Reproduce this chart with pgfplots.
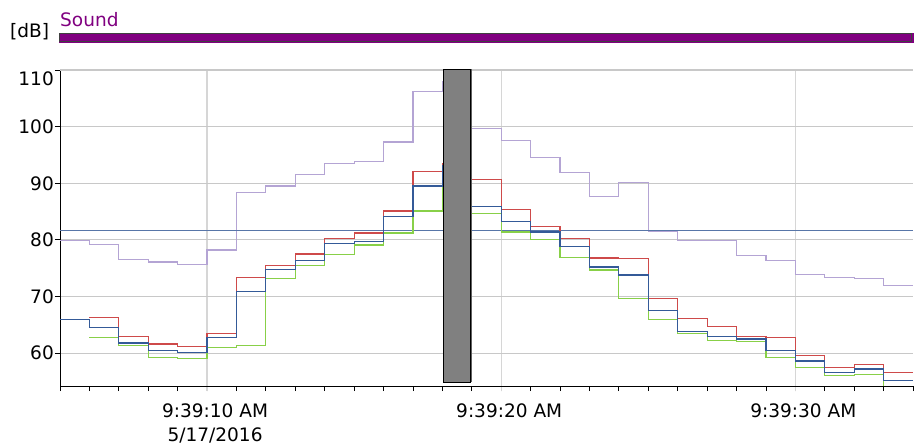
\documentclass[border=0pt]{standalone}
\usepackage{fontspec}
\setmainfont{DejaVu Sans}
\usepackage{pgfplots}
\pgfplotsset{compat=1.18}

\definecolor{sndpurple}{RGB}{128,0,128}
\definecolor{gridgray}{RGB}{200,200,200}
\definecolor{vgridgray}{RGB}{214,214,214}
\definecolor{ser1}{RGB}{180,164,212}
\definecolor{ser2}{RGB}{206,74,74}
\definecolor{ser3}{RGB}{52,90,152}
\definecolor{ser4}{RGB}{136,208,72}
\definecolor{limitline}{RGB}{88,118,168}

\newcommand{\lbl}{\fontsize{18.6}{24}\selectfont}

\begin{document}
\begin{tikzpicture}
\path[use as bounding box] (0bp,0bp) rectangle (919bp,447bp);

% channel header
\fill[sndpurple] (59bp,404bp) rectangle (914bp,414bp);
\draw[black!75,line width=0.9bp] (59.5bp,405.5bp) rectangle (911bp,414bp);
\node[anchor=base west,inner sep=0pt,text=sndpurple] at (60bp,420bp) {\lbl Sound};
\node[anchor=base west,inner sep=0pt] at (10bp,409bp) {\lbl [dB]};

\begin{axis}[
  at={(60bp,61bp)}, anchor=south west,
  scale only axis, width=853bp, height=316bp,
  xmin=5, xmax=34, ymin=54.2, ymax=110,
  axis x line*=bottom, axis y line*=left,
  axis line style={black,line width=0.9bp,-},
  xtick={10,20,30},
  minor xtick={5,...,34},
  xticklabels={{9:39:10 AM\\5/17/2016},{9:39:20 AM},{9:39:30 AM}},
  ytick={60,70,...,100},
  extra y ticks={110},
  extra y tick style={yticklabel style={yshift=-9bp}},
  tick align=outside,
  major tick length=5bp, minor tick length=5bp,
  every tick/.style={black,line width=0.8bp},
  x tick style={vgridgray,line width=1.4bp},
  minor x tick style={black,line width=0.8bp},
  grid=major,
  major grid style={gridgray,line width=1.2bp},
  x grid style={vgridgray,line width=1.4bp},
  /pgf/number format/assume math mode=true,
  ticklabel style={font=\lbl},
  xticklabel style={align=center,inner sep=0pt,yshift=-13bp,xshift=8bp},
  yticklabel style={inner sep=1bp},
  clip=true,
  const plot mark left,
  every axis plot/.append style={line width=1.2bp, mark=none},
]
% upper channel
\addplot[ser1] coordinates {
 (5,79.9) (6,79.2) (7,76.6) (8,76.1) (9,75.7) (10,78.2) (11,88.3) (12,89.5)
 (13,91.5) (14,93.5) (15,93.9) (16,97.3) (17,106.2) (18,107.9) (19,99.6)
 (20,97.6) (21,94.6) (22,91.9) (23,87.6) (24,90.2) (25,81.5) (26,79.9)
 (27,79.9) (28,77.2) (29,76.3) (30,73.9) (31,73.4) (32,73.2) (33,72.0) (34,72.0)};
% threshold
\addplot[limitline,line width=1bp] coordinates {(5,81.6) (34,81.6)};
% green channel
\addplot[ser4] coordinates {
 (6,62.8) (7,61.4) (8,59.2) (9,59.0) (10,61.0) (11,61.4) (12,73.2) (13,75.5)
 (14,77.4) (15,79.1) (16,81.2) (17,85.1) (18,91.0) (19,84.7) (20,81.4)
 (21,80.1) (22,76.9) (23,74.7) (24,69.7) (25,66.0) (26,63.5) (27,62.3)
 (28,62.0) (29,59.2) (30,57.5) (31,56.1) (32,56.2) (33,53.5) (34,53.5)};
% red channel
\addplot[ser2] coordinates {
 (6,66.3) (7,62.9) (8,61.6) (9,61.2) (10,63.4) (11,73.4) (12,75.5) (13,77.5)
 (14,80.3) (15,81.2) (16,85.1) (17,92.1) (18,93.5) (19,90.7) (20,85.4)
 (21,82.3) (22,80.3) (23,76.8) (24,76.7) (25,69.6) (26,66.1) (27,64.7)
 (28,63.0) (29,62.7) (30,59.6) (31,57.5) (32,58.0) (33,56.6) (34,56.6)};
% blue channel
\addplot[ser3] coordinates {
 (5,66.0) (6,64.6) (7,61.8) (8,60.5) (9,60.1) (10,62.7) (11,70.9) (12,74.8)
 (13,76.4) (14,79.3) (15,79.7) (16,84.2) (17,89.5) (18,93.2) (19,85.9)
 (20,83.2) (21,81.4) (22,78.8) (23,75.2) (24,73.8) (25,67.6) (26,63.8)
 (27,62.9) (28,62.5) (29,60.4) (30,58.6) (31,56.6) (32,57.2) (33,55.2) (34,55.2)};

% cursor
\begin{scope}[clip=false]
\fill[black!62] (axis cs:18.03,54.85) rectangle (axis cs:19.01,110.12);
\fill[black!50] (axis cs:18.05,54.85) rectangle (axis cs:18.97,110.12);
\draw[black,line width=0.9bp] (axis cs:18.05,54.85) rectangle (axis cs:18.97,110.12);
\end{scope}
\end{axis}
\end{tikzpicture}
\end{document}
